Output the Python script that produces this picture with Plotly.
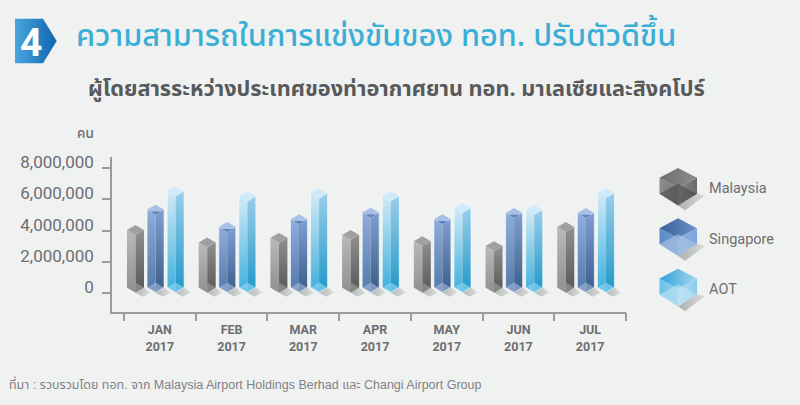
import plotly.graph_objects as go

# Passengers per month, read against the left-hand axis
months = ["JAN", "FEB", "MAR", "APR", "MAY", "JUN", "JUL"]
year = "2017"
malaysia = [3684000, 2884000, 3179000, 3368000, 2968000, 2653000, 3874000]
singapore = [4990000, 3874000, 4379000, 4800000, 4379000, 4779000, 4779000]
aot = [6147000, 5832000, 6021000, 5853000, 5074000, 4968000, 6042000]
y_ticks = [0, 2000000, 4000000, 6000000, 8000000]

W, H = 800, 405
PAGE_BG = "#f0f1f1"
TEXT = "#6d6e70"
AXIS = "#9a9b9c"
LABEL_FONT = "Roboto"
THAI_FONT = "Noto Sans Thai, Noto Sans, sans-serif"
SOURCE_FONT = "Liberation Sans, Noto Sans Thai, Noto Sans, sans-serif"

# Extruded-bar geometry, in axis units
HALF = 0.1186            # half the bar's width on the category axis
DEPTH = 316000           # vertical rise of the isometric faces
BASE = 45000             # front corner of the base sits just above the zero line

SERIES = [
    dict(name="Malaysia", values=malaysia, slot=0.16,
         left=("#8f8d8e", "#bab8b9"), right=("#565555", "#908f8f"),
         cap="#a19f9f", notch=None, floor="rgba(150,148,149,0.75)", edge=None,
         cube=dict(top=("#6e6d6d", "#8e8d8d"), left=("#8f8e8e", "#777676"), right=("#8c8b8b", "#6a6969"),
                   floor="rgba(70,70,70,0.55)")),
    dict(name="Singapore", values=singapore, slot=0.44,
         left=("#4f78a9", "#90acda"), right=("#385b86", "#7e9fd1"),
         cap="#aac0e7", notch="#5f83b8", floor="rgba(165,185,220,0.6)", edge="rgba(255,255,255,0.75)",
         cube=dict(top=("#35609a", "#6e93c8"), left=("#5b8ac6", "#6f9bd2"), right=("#8ab0e0", "#7fa6dc"),
                   floor="rgba(170,195,225,0.65)")),
    dict(name="AOT", values=aot, slot=0.72,
         left=("#3aaedb", "#d0e9f6"), right=("#1e97c6", "#99cdea"),
         cap="#cfeafa", notch=None, floor="rgba(135,210,240,0.7)", edge="rgba(255,255,255,0.75)",
         cube=dict(top=("#2fa3d8", "#a4d6ef"), left=("#6cc1e8", "#8bd0ef"), right=("#b8e0f4", "#8cc9ea"),
                   floor="rgba(190,228,245,0.6)")),
]

fig = go.Figure()


def face(xs, ys, color=None, gradient=None, axes=("x", "y")):
    """Add one filled polygon, flat or with a gradient."""
    kw = dict(x=xs + xs[:1], y=ys + ys[:1], mode="lines", fill="toself",
              xaxis=axes[0], yaxis=axes[1], hoverinfo="skip", showlegend=False,
              line=dict(width=0, color="rgba(0,0,0,0)"))
    if gradient:
        kw["fillgradient"] = dict(type=gradient[0], colorscale=[[0, gradient[1]], [1, gradient[2]]],
                                  start=gradient[3], stop=gradient[4])
    else:
        kw["fillcolor"] = color
    fig.add_trace(go.Scatter(**kw))


# Bars: shadow, two front faces, the see-through floor, the cap and a thin glass outline
for s in SERIES:
    for i, v in enumerate(s["values"]):
        xc = i + s["slot"]
        top = v + BASE
        d = DEPTH
        face([xc + HALF, xc + HALF + 0.093, xc + HALF - 0.018, xc],
             [BASE + d, BASE - 20000, BASE - 275000, BASE],
             gradient=("horizontal", "#b4b5b5", "#dcdddd", xc, xc + HALF + 0.09))
        face([xc - HALF, xc, xc, xc - HALF], [BASE + d, BASE, top, top + d],
             gradient=("vertical", s["left"][0], s["left"][1], BASE, top + d))
        face([xc, xc + HALF, xc + HALF, xc], [BASE, BASE + d, top + d, top],
             gradient=("vertical", s["right"][0], s["right"][1], BASE, top + d))
        face([xc - HALF, xc, xc + HALF, xc], [BASE + d, BASE + 2 * d, BASE + d, BASE], color=s["floor"])
        face([xc - HALF, xc, xc + HALF, xc], [top + d, top + 2 * d, top + d, top], color=s["cap"])
        if s["notch"]:
            face([xc - HALF * 0.62, xc + HALF * 0.62, xc],
                 [top + d * 0.62, top + d * 0.62, top], color=s["notch"])
        if s["edge"]:
            fig.add_trace(go.Scatter(
                x=[xc - HALF, xc - HALF, xc, xc + HALF, xc + HALF],
                y=[top + d, BASE + d, BASE, BASE + d, top + d], mode="lines",
                hoverinfo="skip", showlegend=False, line=dict(width=0.8, color=s["edge"])))

# Header badge and legend cubes live on a page-sized pair of axes
page = ("x2", "y2")
face([15, 43, 56.7, 43, 15], [16, 16, 38.5, 61, 61],
     gradient=("horizontal", "#4ba6df", "#0f66ad", 15, 56), axes=page)

cube_rows = [187, 238, 289]
for s, cy in zip(SERIES, cube_rows):
    cx = 678
    c = s["cube"]
    face([697, 705, 685, 678], [cy + 6, cy + 8, cy + 23, cy + 18],
         gradient=("horizontal", "#aeafaf", "#d8d9d9", 678, 705), axes=page)
    face([659.5, cx, cx, 659.5], [cy - 10, cy, cy + 18, cy + 6],
         gradient=("horizontal", c["left"][0], c["left"][1], 659.5, cx), axes=page)
    face([cx, 697, 697, cx], [cy, cy - 10, cy + 6, cy + 18],
         gradient=("horizontal", c["right"][0], c["right"][1], cx, 697), axes=page)
    face([659.5, cx, 697, cx], [cy - 10, cy - 20, cy - 10, cy],
         gradient=("horizontal", c["top"][0], c["top"][1], 659.5, 697), axes=page)
    face([659.5, cx, 697, cx], [cy + 6, cy - 4, cy + 6, cy + 18], color=c["floor"], axes=page)
    fig.add_annotation(x=707, y=cy + 1, xref="x2", yref="y2", text=s["name"], showarrow=False,
                       xanchor="left", yanchor="middle",
                       font=dict(family=LABEL_FONT, size=14.5, color=TEXT))


def note(x, y, text, size, color, family=THAI_FONT, anchor="left", weight="normal"):
    fig.add_annotation(x=x, y=y, xref="x2", yref="y2", text=text, showarrow=False,
                       xanchor=anchor, yanchor="middle",
                       font=dict(family=family, size=size, color=color, weight=weight))


note(31, 40, "4", 39, "#ffffff", family=LABEL_FONT, anchor="center", weight="bold")
note(74, 34, "ความสามารถในการแข่งขันของ ทอท. ปรับตัวดีขึ้น", 30.7, "#3aaed5", weight=500)
note(86, 88, "ผู้โดยสารระหว่างประเทศของท่าอากาศยาน ทอท. มาเลเซียและสิงคโปร์", 21.7, "#58595b", weight="bold")
note(96, 133, "คน", 13.5, TEXT, anchor="right", weight=500)
note(7, 386, "ที่มา : รวบรวมโดย ทอท. จาก Malaysia Airport Holdings Berhad และ Changi Airport Group", 12.5, "#808285",
     family=SOURCE_FONT)

fig.update_layout(
    width=W, height=H, margin=dict(l=0, r=0, t=0, b=0),
    paper_bgcolor=PAGE_BG, plot_bgcolor="rgba(0,0,0,0)", showlegend=False,
    xaxis=dict(domain=[112 / W, 626 / W], range=[-0.1674, 7], showgrid=False, zeroline=False,
               showline=True, linecolor=AXIS, linewidth=1.5,
               tickmode="array", tickvals=[i + 0.5 for i in range(len(months))],
               ticktext=[f"{m}<br>{year}" for m in months], ticks="outside", ticklen=0,
               tickfont=dict(family=LABEL_FONT, size=12.5, color=TEXT, weight="bold"),
               minor=dict(tickmode="array", tickvals=list(range(len(months) + 1)), ticks="outside",
                          ticklen=8, tickwidth=1.5, tickcolor=AXIS),
               ticklabelstandoff=6),
    yaxis=dict(domain=[1 - 310.4 / H, 1 - 154.4 / H], range=[-1183500, 8690000], showgrid=False,
               zeroline=False, showline=True, linecolor=AXIS, linewidth=1.5,
               tickmode="array", tickvals=y_ticks, tickformat=",d", ticks="outside", ticklen=8,
               tickwidth=1.5, tickcolor=AXIS, ticklabelshift=-6, ticklabelstandoff=5,
               tickfont=dict(family=LABEL_FONT, size=17, color=TEXT)),
    xaxis2=dict(domain=[0, 1], range=[0, W], visible=False, anchor="y2"),
    yaxis2=dict(domain=[0, 1], range=[H + 2, 2], visible=False, anchor="x2"),
)

fig.write_html("out.html")
